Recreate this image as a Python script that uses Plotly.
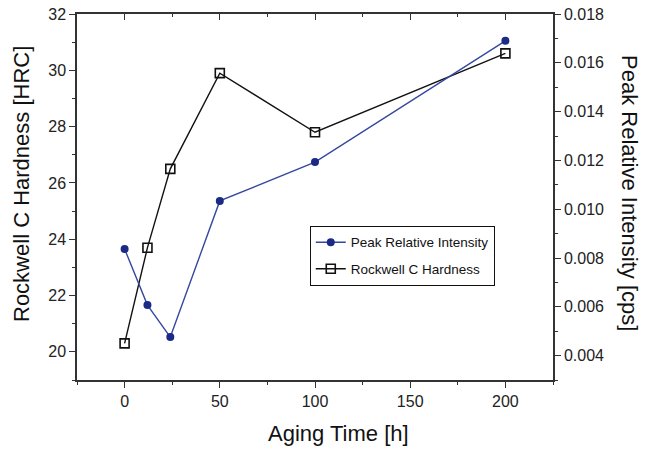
import plotly.graph_objects as go

aging_time = [0, 12, 24, 50, 100, 200]
hardness_hrc = [20.3, 23.7, 26.5, 29.9, 27.8, 30.6]
peak_intensity = [0.00837, 0.00607, 0.00476, 0.01034, 0.01193, 0.01690]

x_ticks = [0, 50, 100, 150, 200]
left_ticks = [20, 22, 24, 26, 28, 30, 32]
right_ticks = [0.004, 0.006, 0.008, 0.010, 0.012, 0.014, 0.016, 0.018]

FONT = "Liberation Sans, Arial, sans-serif"
AX = "#333333"

fig = go.Figure()

fig.add_trace(go.Scatter(
    x=aging_time, y=peak_intensity, yaxis="y2", mode="lines+markers",
    name="Peak Relative Intensity", legendgroup="a",
    line=dict(color="#3548a0", width=1.4),
    marker=dict(symbol="circle", size=8, color="#1a2a85"),
))
fig.add_trace(go.Scatter(
    x=aging_time, y=hardness_hrc, yaxis="y", mode="lines+markers",
    name="Rockwell C Hardness", legendgroup="b",
    line=dict(color="#111111", width=1.4),
    marker=dict(symbol="square-open", size=9, color="#111111",
                line=dict(width=1.6, color="#111111")),
))
# invisible helper trace for top axis
fig.add_trace(go.Scatter(x=[None], y=[None], xaxis="x2", yaxis="y",
                         showlegend=False, hoverinfo="skip"))

common = dict(showgrid=False, zeroline=False, showline=True, linecolor=AX,
              linewidth=1.5, tickcolor=AX, tickwidth=1.3, automargin=False,
              tickfont=dict(family=FONT, size=16, color="#222"))

fig.update_layout(
    width=645, height=451,
    margin=dict(l=77, r=92, t=14, b=71),
    paper_bgcolor="white", plot_bgcolor="white",
    font=dict(family=FONT, color="#222"),
    xaxis=dict(range=[-25, 225], tickvals=x_ticks, ticks="outside", ticklen=6,
               minor=dict(dtick=25, tick0=0, ticks="outside", ticklen=3,
                          tickcolor=AX, tickwidth=1.2),
               **common),
    xaxis2=dict(range=[-25, 225], overlaying="x", side="top", tickvals=x_ticks,
                ticks="inside", ticklen=6, showticklabels=False,
                minor=dict(dtick=25, tick0=0, ticks="inside", ticklen=3,
                           tickcolor=AX, tickwidth=1.2),
                **common),
    yaxis=dict(range=[19, 32], tickvals=left_ticks, ticks="outside", ticklen=6,
               minor=dict(dtick=1, tick0=0, ticks="outside", ticklen=3,
                          tickcolor=AX, tickwidth=1.2),
               **common),
    yaxis2=dict(range=[0.003, 0.018], overlaying="y", side="right",
                tickvals=right_ticks, tickformat=".3f", ticks="outside", ticklen=6,
                minor=dict(dtick=0.001, tick0=0, ticks="outside", ticklen=3,
                           tickcolor=AX, tickwidth=1.2),
                **common),
    legend=dict(x=0.489, y=0.421, xanchor="left", yanchor="top",
                bordercolor="#111", borderwidth=1, bgcolor="white",
                font=dict(family=FONT, size=13.5, color="#111"),
                tracegroupgap=6),
    showlegend=True,
    annotations=[
        dict(text="Aging Time [h]", xref="paper", yref="paper", x=0.55, y=-0.145,
             xanchor="center", yanchor="middle", showarrow=False,
             font=dict(family=FONT, size=22, color="#111")),
        dict(text="Rockwell C Hardness [HRC]", xref="paper", yref="paper",
             x=(22 - 77) / 476, y=(380 - 184) / 366, xanchor="center", yanchor="middle",
             textangle=-90, showarrow=False,
             font=dict(family=FONT, size=22, color="#111")),
        dict(text="Peak Relative Intensity [cps]", xref="paper", yref="paper",
             x=(630 - 77) / 476, y=(380 - 193) / 366, xanchor="center", yanchor="middle",
             textangle=90, showarrow=False,
             font=dict(family=FONT, size=22, color="#111")),
    ],
)

fig.write_html("out.html", config={"displayModeBar": False},
               post_script="document.body.style.margin='0';")
